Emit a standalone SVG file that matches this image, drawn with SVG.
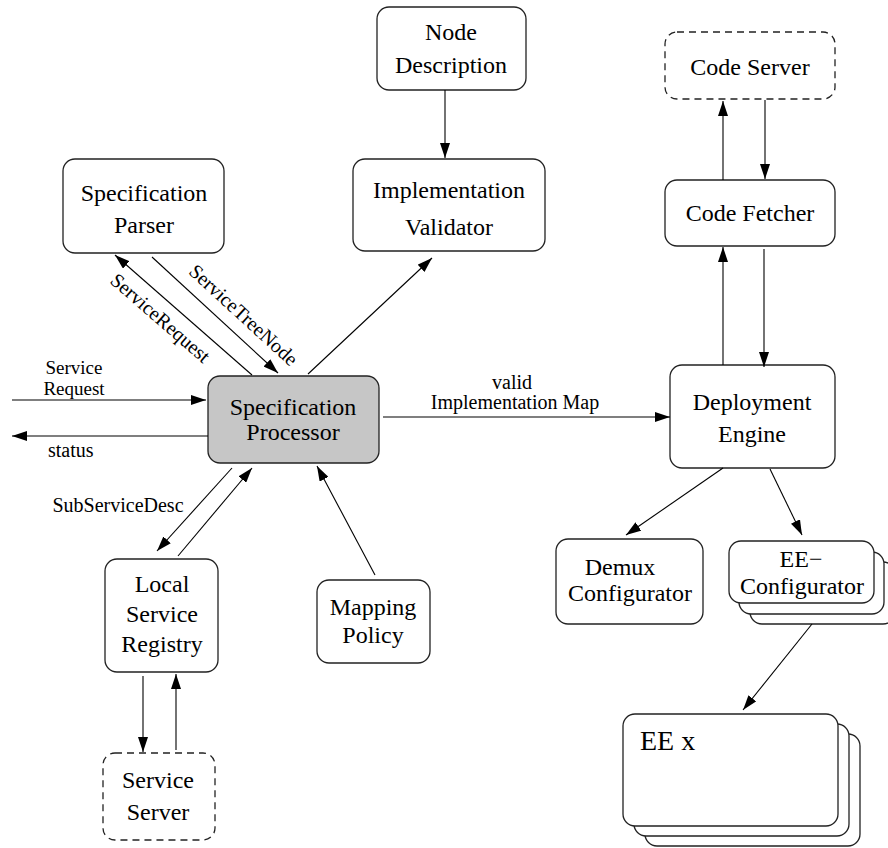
<svg xmlns="http://www.w3.org/2000/svg" width="888" height="848" viewBox="0 0 888 848">
  <style>
    .box { fill: #ffffff; stroke: #222222; stroke-width: 1.3; }
    .dash { stroke-dasharray: 7 5; }
    .proc { fill: #c6c6c6; }
    .t { font-family: "Liberation Serif", "Times New Roman", serif; font-size: 24px; fill: #000000; text-anchor: middle; }
    .s { font-family: "Liberation Serif", "Times New Roman", serif; font-size: 20px; fill: #000000; text-anchor: middle; }
    .big { font-family: "Liberation Serif", "Times New Roman", serif; font-size: 28px; fill: #000000; }
    .edge { fill: none; stroke: #000000; stroke-width: 1.1; marker-end: url(#arrow); }
  </style>
  <defs>
    <marker id="arrow" markerUnits="userSpaceOnUse" markerWidth="15" markerHeight="10" refX="15" refY="5" orient="auto">
      <path d="M0,0 L15,5 L0,10 z" fill="#000000"/>
    </marker>
  </defs>

  <!-- nodes -->
  <g id="node-description">
    <rect class="box" x="377" y="7" width="149" height="83" rx="12"/>
    <text class="t" x="451" y="40">Node</text>
    <text class="t" x="451" y="73">Description</text>
  </g>

  <g id="implementation-validator">
    <rect class="box" x="353" y="159" width="192" height="92" rx="12"/>
    <text class="t" x="449" y="198">Implementation</text>
    <text class="t" x="449" y="235">Validator</text>
  </g>

  <g id="specification-parser">
    <rect class="box" x="63" y="159" width="161" height="94" rx="12"/>
    <text class="t" x="144" y="201">Specification</text>
    <text class="t" x="144" y="233">Parser</text>
  </g>

  <g id="specification-processor">
    <rect class="box proc" x="208" y="376" width="171" height="87" rx="12"/>
    <text class="t" x="293" y="415">Specification</text>
    <text class="t" x="293" y="440">Processor</text>
  </g>

  <g id="local-service-registry">
    <rect class="box" x="105" y="559" width="113" height="113" rx="12"/>
    <text class="t" x="162" y="592">Local</text>
    <text class="t" x="162" y="622">Service</text>
    <text class="t" x="162" y="652">Registry</text>
  </g>

  <g id="mapping-policy">
    <rect class="box" x="317" y="580" width="113" height="83" rx="12"/>
    <text class="t" x="373" y="615">Mapping</text>
    <text class="t" x="373" y="643">Policy</text>
  </g>

  <g id="service-server">
    <rect class="box dash" x="103" y="753" width="112" height="87" rx="12"/>
    <text class="t" x="158" y="788">Service</text>
    <text class="t" x="158" y="820">Server</text>
  </g>

  <g id="code-server">
    <rect class="box dash" x="665" y="32" width="170" height="67" rx="12"/>
    <text class="t" x="750" y="75">Code Server</text>
  </g>

  <g id="code-fetcher">
    <rect class="box" x="665" y="180" width="170" height="66" rx="12"/>
    <text class="t" x="750" y="221">Code Fetcher</text>
  </g>

  <g id="deployment-engine">
    <rect class="box" x="670" y="365" width="165" height="103" rx="12"/>
    <text class="t" x="752" y="410">Deployment</text>
    <text class="t" x="752" y="442">Engine</text>
  </g>

  <g id="demux-configurator">
    <rect class="box" x="556" y="539" width="147" height="85" rx="12"/>
    <text class="t" x="620" y="575">Demux</text>
    <text class="t" x="630" y="601">Configurator</text>
  </g>

  <!-- stacked boxes: back copies first -->
  <g id="ee-configurator">
    <rect class="box" x="750" y="562" width="145" height="62" rx="12"/>
    <rect class="box" x="739" y="552" width="145" height="62" rx="12"/>
    <rect class="box" x="729" y="541" width="145" height="62" rx="12"/>
    <text class="t" x="801" y="567">EE−</text>
    <text class="t" x="802" y="594">Configurator</text>
  </g>

  <g id="ee-x">
    <rect class="box" x="645" y="734" width="215" height="112" rx="12"/>
    <rect class="box" x="634" y="724" width="215" height="112" rx="12"/>
    <rect class="box" x="623" y="714" width="215" height="112" rx="12"/>
    <text class="big" x="640" y="750">EE x</text>
  </g>

  <!-- connectors -->
  <g id="connectors">
    <line class="edge" x1="445" y1="90" x2="445" y2="158"/>
    <line class="edge" x1="308" y1="374" x2="432" y2="258"/>
    <line class="edge" x1="252" y1="375" x2="115" y2="255"/>
    <line class="edge" x1="152" y1="257" x2="278" y2="373"/>
    <line class="edge" x1="12" y1="400" x2="206" y2="400"/>
    <line class="edge" x1="208" y1="436" x2="12" y2="436"/>
    <line class="edge" x1="383" y1="417" x2="670" y2="417"/>
    <line class="edge" x1="232" y1="468" x2="157" y2="551"/>
    <line class="edge" x1="178" y1="556" x2="252" y2="468"/>
    <line class="edge" x1="375" y1="575" x2="317" y2="466"/>
    <line class="edge" x1="143" y1="676" x2="143" y2="752"/>
    <line class="edge" x1="176" y1="750" x2="176" y2="674"/>
    <line class="edge" x1="723" y1="180" x2="723" y2="101"/>
    <line class="edge" x1="765" y1="100" x2="765" y2="179"/>
    <line class="edge" x1="723" y1="365" x2="723" y2="247"/>
    <line class="edge" x1="764" y1="249" x2="764" y2="367"/>
    <line class="edge" x1="723" y1="468" x2="626" y2="535"/>
    <line class="edge" x1="770" y1="469" x2="802" y2="535"/>
    <line class="edge" x1="812" y1="624" x2="743" y2="710"/>

    <!-- connector labels -->
    <text class="s" x="74" y="374" style="font-size:19px">Service</text>
    <text class="s" x="74" y="395" style="font-size:19px">Request</text>
    <text class="s" x="48" y="457" style="text-anchor:start">status</text>
    <text class="s" x="118" y="512">SubServiceDesc</text>
    <text class="s" x="512" y="389">valid</text>
    <text class="s" x="515" y="409">Implementation Map</text>
    <text class="s" x="156" y="323" transform="rotate(41 156 323)">ServiceRequest</text>
    <text class="s" x="239" y="320" transform="rotate(42.5 239 320)">ServiceTreeNode</text>
  </g>
</svg>
